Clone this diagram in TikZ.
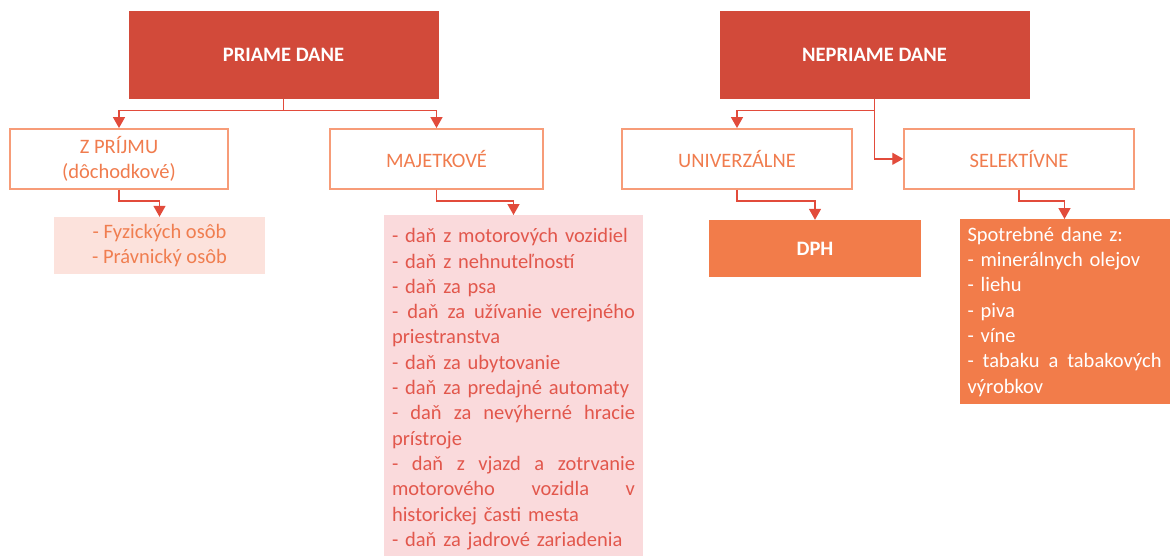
\documentclass[tikz,border=0pt]{standalone}
\usepackage{fontspec}
\setmainfont{Carlito}
\usetikzlibrary{arrows.meta}
\definecolor{headred}{HTML}{D24A3A}
\definecolor{kindline}{HTML}{F79C78}
\definecolor{kindtext}{HTML}{F07C4E}
\definecolor{fyzfill}{HTML}{FCE2DC}
\definecolor{fyztext}{HTML}{F07E50}
\definecolor{majfill}{HTML}{FADADC}
\definecolor{majtext}{HTML}{E2574C}
\definecolor{dphfill}{HTML}{F27C4A}
\definecolor{linered}{HTML}{E24B3B}
\begin{document}
\begin{tikzpicture}[x=1pt,y=-1pt,
  every node/.style={font=\fontsize{20.5}{25.3}\selectfont},
  head/.style={fill=headred, text=white, font=\fontsize{20.5}{25.3}\selectfont\bfseries,
    minimum width=310pt, minimum height=88pt, inner sep=0pt},
  kind/.style={draw=kindline, line width=1.5pt, text=kindtext, align=center,
    minimum height=60pt, inner sep=0pt},
  conn/.style={draw=linered, line width=1.4pt, -{Triangle[length=11pt,width=12pt]}}]
\useasboundingbox (0,0) rectangle (1170,555);
% headers
\node[head] (priame) at (283.5,54.5) {PRIAME DANE};
\node[head] (nepriame) at (874.5,54.5) {NEPRIAME DANE};
% kinds of taxes
\node[kind, minimum width=218pt] (zprijmu) at (119,158.8) {Z PRÍJMU\\(dôchodkové)};
\node[kind, minimum width=213pt] (majetkove) at (436.5,158.8) {MAJETKOVÉ};
\node[kind, minimum width=230pt] (univerzalne) at (737,158.8) {UNIVERZÁLNE};
\node[kind, minimum width=230pt] (selektivne) at (1019,158.8) {SELEKTÍVNE};
% lists
\node[fill=fyzfill, text=fyztext, align=center, minimum width=211pt, minimum height=57pt,
  inner sep=0pt] (fyzicke) at (159.5,245.5) {- Fyzických osôb\\- Právnický osôb};
\node[fill=majfill, text=majtext, anchor=north, text width=243pt, align=left,
  inner xsep=8pt, inner ysep=6pt, minimum height=348pt] (majzoznam) at (513.5,215) {%
  - daň z motorových vozidiel\\
  - daň z nehnuteľností\\
  - daň za psa\\
  -\hfill daň\hfill za\hfill užívanie\hfill verejného\\
  priestranstva\\
  - daň za ubytovanie\\
  - daň za predajné automaty\\
  -\hfill daň\hfill za\hfill nevýherné\hfill hracie\\
  prístroje\\
  -\hfill daň\hfill z\hfill vjazd\hfill a\hfill zotrvanie\\
  motorového\hfill vozidla\hfill v\\
  historickej časti mesta\\
  - daň za jadrové zariadenia};
\node[fill=dphfill, text=white, font=\fontsize{20.5}{25.3}\selectfont\bfseries,
  minimum width=212pt, minimum height=57pt, inner sep=0pt] (dph) at (815,248.5) {DPH};
\node[fill=dphfill, text=white, anchor=north, text width=194pt, align=left,
  inner xsep=8pt, inner ysep=5pt, minimum height=185pt] (spotrebne) at (1064.5,219) {%
  Spotrebné dane z:\\
  - minerálnych olejov\\
  - liehu\\
  - piva\\
  - víne\\
  -\hfill tabaku\hfill a\hfill tabakových\\
  výrobkov};
% connectors
\path[conn] (priame.south) -- ++(0,12) -| (zprijmu.north);
\path[conn] (priame.south) -- ++(0,12) -| (majetkove.north);
\path[conn] (zprijmu.south) -- ++(0,11.5) -| (fyzicke.north);
\path[conn] (majetkove.south) -- ++(0,11.5) -| (majzoznam.north);
\path[conn] (nepriame.south) -- ++(0,12) -| (univerzalne.north);
\path[conn] (nepriame.south) |- (selektivne.west);
\path[conn] (univerzalne.south) -- ++(0,11.5) -| (dph.north);
\path[conn] (selektivne.south) -- ++(0,11.5) -| (spotrebne.north);
\end{tikzpicture}
\end{document}
